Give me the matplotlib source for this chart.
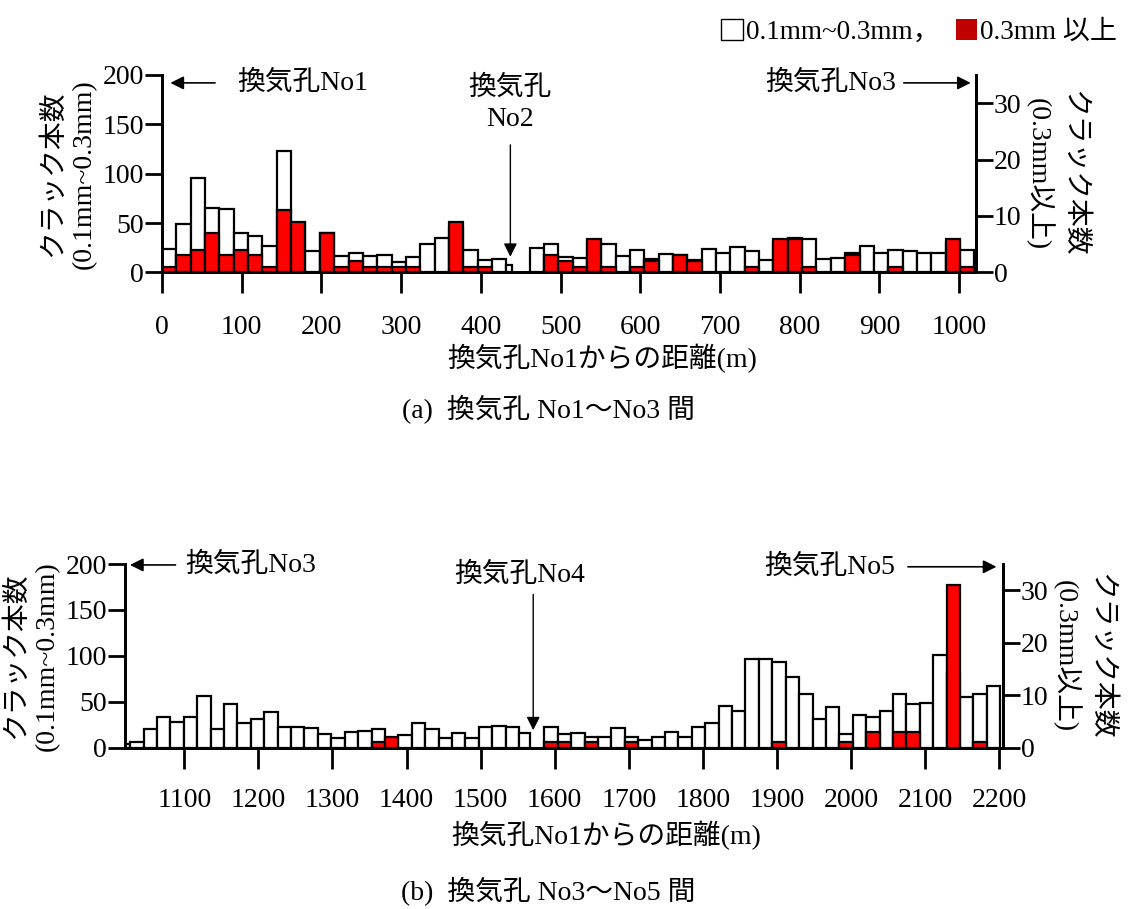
import numpy as np
import matplotlib.pyplot as plt
from matplotlib.patches import Patch

plt.rcParams['font.family'] = ['Liberation Serif', 'Noto Sans CJK JP']
plt.rcParams['font.size'] = 20

# (a) No1 - No3 : bar left edges (m), widths (m), crack counts
a_left = np.concatenate([np.arange(0, 432, 18), [432], np.arange(461, 1019, 18)])
a_width = np.array([18] * 24 + [7] + [18] * 31)
a_thin = [24, 49, 96, 65, 64, 40, 37, 27, 123, 50, 22, 40, 17, 20, 17, 18, 10, 16, 29, 35,
          45, 23, 13, 14, 7,
          25, 29, 16, 15, 30, 29, 17, 23, 14, 19, 18, 12, 24, 20, 26, 22, 12, 30, 35, 34,
          14, 15, 20, 27, 20, 23, 22, 20, 20, 30, 23]
a_wide = [1, 3, 4, 7, 3, 4, 3, 1, 11, 9, 0, 7, 1, 2, 1, 1, 1, 1, 0, 0,
          9, 1, 1, 0, 0,
          0, 3, 2, 1, 6, 1, 0, 1, 2, 0, 3, 2, 0, 0, 0, 1, 0, 6, 6, 1,
          0, 0, 3, 0, 0, 1, 0, 0, 0, 6, 1]

# (b) No3 - No5
b_left = np.concatenate([[1009], 1027 + 18.1 * np.arange(29), [1552], 1586 + 18.1 * np.arange(34)])
b_width = np.array([18] + [18.1] * 29 + [15] + [18.1] * 34)
b_thin = [4,
          6, 20, 33, 28, 33, 56, 20, 48, 27, 31, 39, 23, 23, 21, 15, 11, 17, 18, 20, 8,
          14, 27, 20, 10, 16, 11, 23, 24, 22,
          16,
          23, 15, 16, 12, 12, 21, 12, 8, 12, 17, 12, 22, 27, 45, 40, 97, 97, 93, 77, 58,
          31, 44, 15, 36, 33, 40, 58, 48, 49, 101, 80, 55, 58, 67]
b_wide = [0,
          0, 0, 0, 0, 0, 0, 0, 0, 0, 0, 0, 0, 0, 0, 0, 0, 0, 0, 1, 2,
          0, 0, 0, 0, 0, 0, 0, 0, 0,
          0,
          1, 1, 0, 1, 0, 0, 1, 0, 0, 0, 0, 0, 0, 0, 0, 0, 0, 1, 0, 0,
          0, 0, 1, 0, 3, 0, 3, 3, 0, 0, 31, 0, 1, 0]

ylabel_l = 'クラック本数\n(0.1mm~0.3mm)'
ylabel_r = 'クラック本数\n(0.3mm以上)'
xlabel = '換気孔No1からの距離(m)'

fig = plt.figure(figsize=(11.36, 9.09), dpi=100)


def panel(rect, left, width, thin, wide, xlim, xticks, xpad):
    ax = fig.add_axes(rect)
    ax2 = ax.twinx()
    ax.bar(left, thin, width=width, align='edge', color='white', edgecolor='black', lw=1.6)
    wide = np.array(wide)
    m = wide > 0
    ax2.bar(left[m], wide[m], width=width[m], align='edge', color='#ff0000', edgecolor='black', lw=1.6)
    ax.set_xlim(*xlim)
    ax.set_ylim(0, 200)
    ax2.set_ylim(0, 35)
    ax.set_xticks(xticks)
    ax.set_yticks([0, 50, 100, 150, 200])
    ax2.set_yticks([0, 10, 20, 30])
    for a in (ax, ax2):
        a.spines['top'].set_visible(False)
        for s in a.spines.values():
            s.set_linewidth(2.0)
    ax.tick_params(axis='x', length=15, width=2.0, pad=xpad)
    ax.tick_params(axis='y', length=12, width=2.0, pad=1)
    ax2.tick_params(axis='y', length=12, width=2.0, pad=1)
    ax.set_ylabel(ylabel_l, linespacing=1.3, labelpad=4)
    ax2.set_ylabel(ylabel_r, rotation=270, linespacing=1.3, labelpad=46)
    return ax


arrow = dict(arrowstyle='-|>', color='black', lw=1.2, mutation_scale=20)

# (a)
ax = panel([0.1426, 0.7004, 0.7165, 0.2171], a_left, a_width, a_thin, a_wide,
           (0, 1021), np.arange(0, 1001, 100), 16)
ax.annotate('', xy=(7, 192), xytext=(70, 192), arrowprops=arrow, annotation_clip=False)
ax.text(94, 192, '換気孔No1', va='center', ha='left')
ax.text(437, 171, '換気孔\nNo2', va='center', ha='center', linespacing=1.3)
ax.annotate('', xy=(437, 13), xytext=(437, 132), arrowprops=dict(arrowstyle='-|>', color='black', lw=1.0, mutation_scale=20))
ax.text(921, 192, '換気孔No3', va='center', ha='right')
ax.annotate('', xy=(1018, 192), xytext=(927, 192), arrowprops=arrow, annotation_clip=False)
fig.text(602 / 1136, 1 - 358 / 909, xlabel, ha='center', va='center')
fig.text(548 / 1136, 1 - 410 / 909, '(a)  換気孔 No1～No3 間', ha='center', va='center')

# (b)
ax = panel([0.1100, 0.1775, 0.7729, 0.2020], b_left, b_width, b_thin, b_wide,
           (1020, 2205), np.arange(1100, 2201, 100), 14)
ax.annotate('', xy=(1023, 199), xytext=(1092, 199), arrowprops=arrow, annotation_clip=False)
ax.text(1101, 199, '換気孔No3', va='center', ha='left')
ax.text(1553, 188, '換気孔No4', va='center', ha='center')
ax.annotate('', xy=(1571, 16), xytext=(1571, 170), arrowprops=dict(arrowstyle='-|>', color='black', lw=1.0, mutation_scale=20))
ax.text(2059, 197, '換気孔No5', va='center', ha='right')
ax.annotate('', xy=(2200, 197), xytext=(2073, 197), arrowprops=arrow, annotation_clip=False)
fig.text(606 / 1136, 1 - 835 / 909, xlabel, ha='center', va='center')
fig.text(548 / 1136, 1 - 892 / 909, '(b)  換気孔 No3～No5 間', ha='center', va='center')

handles = [Patch(facecolor='white', edgecolor='black', lw=1.0),
           Patch(facecolor='#c00000', edgecolor='none')]
fig.legend(handles, ['0.1mm~0.3mm，', '0.3mm 以上'], ncol=2, loc='upper right',
           bbox_to_anchor=(1.0, 1.0), frameon=False, fontsize=19.5,
           handlelength=0.8, handleheight=0.8, handletextpad=0.1, columnspacing=0.6,
           borderaxespad=0.3)

fig.savefig('out.png', dpi=100)
